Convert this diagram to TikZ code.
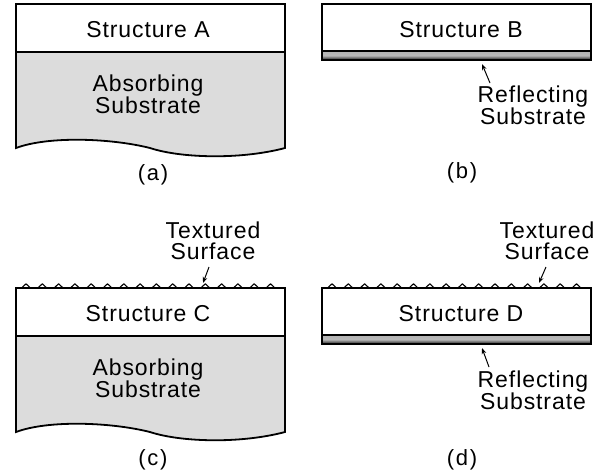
\documentclass[tikz,border=0pt]{standalone}
\usepackage{fontspec}
\setmainfont{Liberation Sans}[LetterSpace=4]
\usetikzlibrary{arrows.meta}
\definecolor{absgray}{RGB}{220,220,220}
\begin{document}
\begin{tikzpicture}[x=1pt,y=-1pt,
  frame/.style={draw=black, line width=1.8pt, line join=miter},
  absorber/.style={fill=absgray},
  mirror/.style={draw=black, line width=1.4pt, top color=gray!60, bottom color=black!90, middle color=gray!55},
  lbl/.style={font=\fontsize{23}{21}\selectfont, inner sep=0pt, align=center},
  panellabel/.style={font=\fontsize{22}{24}\selectfont\addfontfeature{LetterSpace=8}, inner sep=0pt},
  pointer/.style={-{Stealth[length=6pt,width=4.5pt]}, line width=1pt},
  texture/.style={line width=1.1pt, line join=round}]
\useasboundingbox (0,0) rectangle (608,474);

% ---------- (a) structure on an absorbing substrate ----------
\fill[absorber] (16,52) -- (16,148) .. controls (48,136) and (110,138) .. (150,148)
  .. controls (180,158) and (240,160) .. (285,148) -- (285,52) -- cycle;
\draw[frame] (16,4) -- (16,148) .. controls (48,136) and (110,138) .. (150,148)
  .. controls (180,158) and (240,160) .. (285,148) -- (285,4) -- cycle;
\draw[frame] (16,52) -- (285,52);
\node[lbl, anchor=base] (sa) at (148,37) {Structure A};
\node[lbl, anchor=south] (aa) at (148,114) {Absorbing\\Substrate};
\node[panellabel, anchor=base] (la) at (153,180) {(a)};

% ---------- (b) structure on a reflecting substrate ----------
\draw[mirror] (322,51) rectangle (591,60);
\draw[frame, fill=white] (322,4) rectangle (591,51);
\node[lbl, anchor=base] (sb) at (461,37) {Structure B};
\node[lbl, anchor=south] (rb) at (533,125) {Reflecting\\Substrate};
\coordinate (bt) at (490,83);
\coordinate (bh) at (482,64);
\draw[pointer] (bt) -- (bh);
\node[panellabel, anchor=base] (lb) at (462,178) {(b)};

% ---------- (c) textured structure on an absorbing substrate ----------
\fill[absorber] (16,336) -- (16,432) .. controls (48,420) and (110,422) .. (150,432)
  .. controls (180,442) and (240,444) .. (285,432) -- (285,336) -- cycle;
\draw[frame] (16,288) -- (16,432) .. controls (48,420) and (110,422) .. (150,432)
  .. controls (180,442) and (240,444) .. (285,432) -- (285,288) -- cycle;
\draw[frame] (16,336) -- (285,336);
\foreach \i in {0,...,15}
  \draw[texture] (21.5+\i*16.3,288) -- ++(4.5,-4.2) -- ++(4.5,4.2);
\node[lbl, anchor=base] (sc) at (148,321) {Structure C};
\node[lbl, anchor=south] (ac) at (148,398) {Absorbing\\Substrate};
\node[lbl, anchor=south] (tc) at (213,260) {Textured\\Surface};
\coordinate (ct) at (209,267);
\coordinate (ch) at (203,283);
\draw[pointer] (ct) -- (ch);
\node[panellabel, anchor=base] (lc) at (153,465) {(c)};

% ---------- (d) textured structure on a reflecting substrate ----------
\draw[mirror] (322,335) rectangle (591,344);
\draw[frame, fill=white] (322,288) rectangle (591,335);
\foreach \i in {0,...,15}
  \draw[texture] (327.5+\i*16.3,288) -- ++(4.5,-4.2) -- ++(4.5,4.2);
\node[lbl, anchor=base] (sd) at (461,321) {Structure D};
\node[lbl, anchor=south] (tdd) at (547,260) {Textured\\Surface};
\coordinate (dt) at (546,267);
\coordinate (dh) at (539,283);
\draw[pointer] (dt) -- (dh);
\node[lbl, anchor=south] (rd) at (533,410) {Reflecting\\Substrate};
\coordinate (rt) at (489,367);
\coordinate (rh) at (482,348);
\draw[pointer] (rt) -- (rh);
\node[panellabel, anchor=base] (ld) at (462,465) {(d)};
\end{tikzpicture}
\end{document}
